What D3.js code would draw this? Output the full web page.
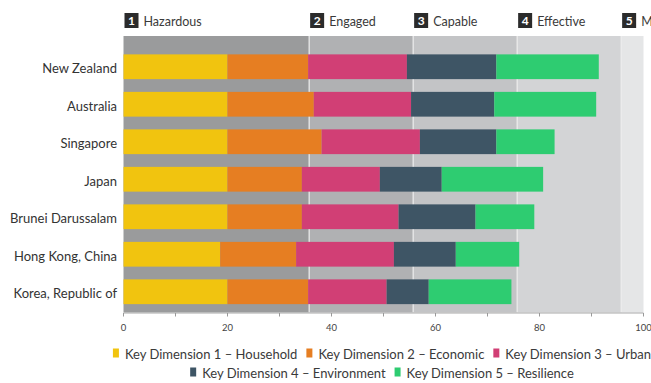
<!DOCTYPE html>
<html>
<head>
<meta charset="utf-8">
<script src="https://cdn.jsdelivr.net/npm/d3@7/dist/d3.min.js"></script>
<style>
  html, body { margin: 0; padding: 0; background: #ffffff; }
  svg { display: block; }
  text { font-family: Lato, "Open Sans", sans-serif; }
</style>
</head>
<body>
<svg id="chart" width="651" height="383"></svg>
<script>
// Countries, top to bottom
const countries = ["New Zealand", "Australia", "Singapore", "Japan",
  "Brunei Darussalam", "Hong Kong, China", "Korea, Republic of"];

// Scores per key dimension (stacked)
const household   = [20.0, 20.0, 20.0, 20.0, 20.0, 18.6, 20.0];
const economic    = [15.5, 16.6, 18.1, 14.3, 14.3, 14.6, 15.5];
const urban       = [19.0, 18.7, 18.9, 15.0, 18.6, 18.8, 15.1];
const environment = [17.2, 16.0, 14.7, 11.9, 14.8, 11.9,  8.1];
const resilience  = [19.7, 19.6, 11.2, 19.5, 11.3, 12.2, 15.9];

const seriesNames = [
  "Key Dimension 1 \u2013 Household",
  "Key Dimension 2 \u2013 Economic",
  "Key Dimension 3 \u2013 Urban",
  "Key Dimension 4 \u2013 Environment",
  "Key Dimension 5 \u2013 Resilience"
];
const seriesColors = ["#f1c40f", "#e67e22", "#d13f75", "#3e5565", "#2ecc71"];

// Maturity stages shown as background bands
const stageNames  = ["Hazardous", "Engaged", "Capable", "Effective", "Mature"];
const stageStarts = [0, 35.7, 55.7, 75.7, 95.7];
const stageEnds   = [35.7, 55.7, 75.7, 95.7, 100];
const stageColors = ["#9a9b9c", "#b0b1b3", "#c3c4c6", "#d3d4d6", "#e5e6e7"];

const xTicks = [0, 10, 20, 30, 40, 50, 60, 70, 80, 90, 100];
const xLabels = [0, 20, 40, 60, 80, 100];

const svg = d3.select("#chart");

const x = d3.scaleLinear().domain([0, 100]).range([123.5, 643.5]);
const y = d3.scaleBand().domain(countries).range([48, 310.5])
  .paddingInner(0.34).paddingOuter(0.17);

const bandTop = 36, bandBottom = 312.5;

// Background stage bands
svg.append("g").selectAll("rect")
  .data(stageNames)
  .join("rect")
  .attr("x", (d, i) => x(stageStarts[i]))
  .attr("width", (d, i) => x(stageEnds[i]) - x(stageStarts[i]))
  .attr("y", bandTop)
  .attr("height", bandBottom - bandTop)
  .attr("fill", (d, i) => stageColors[i]);

// Light separators between stages
svg.append("g").selectAll("line")
  .data(stageStarts.slice(1))
  .join("line")
  .attr("x1", d => x(d)).attr("x2", d => x(d))
  .attr("y1", bandTop).attr("y2", bandBottom)
  .attr("stroke", "#ececec").attr("stroke-width", 1.2);

// Stage headers: numbered box + name
const header = svg.append("g").selectAll("g")
  .data(stageNames)
  .join("g")
  .attr("transform", (d, i) => `translate(${x(stageStarts[i]) + 1},0)`);
header.append("rect")
  .attr("x", 0).attr("y", 13).attr("width", 14).attr("height", 15)
  .attr("fill", "#2b2b2b");
header.append("text")
  .attr("x", 7).attr("y", 25)
  .attr("text-anchor", "middle")
  .attr("fill", "#ffffff").attr("font-size", 12).attr("font-weight", 700)
  .text((d, i) => i + 1);
header.append("text")
  .attr("x", 19).attr("y", 25.5)
  .attr("fill", "#3a3a3a").attr("font-size", 12.5)
  .text(d => d);

// Stacked bars
const rows = countries.map((c, i) => ({
  country: c,
  s0: household[i], s1: economic[i], s2: urban[i], s3: environment[i], s4: resilience[i]
}));
const stack = d3.stack().keys(["s0", "s1", "s2", "s3", "s4"]);
const layers = stack(rows);

svg.append("g").selectAll("g")
  .data(layers)
  .join("g")
  .attr("fill", (d, i) => seriesColors[i])
  .selectAll("rect")
  .data(d => d)
  .join("rect")
  .attr("x", d => x(d[0]))
  .attr("width", d => x(d[1]) - x(d[0]))
  .attr("y", d => y(d.data.country))
  .attr("height", y.bandwidth());

// Country labels
svg.append("g").selectAll("text")
  .data(countries)
  .join("text")
  .attr("x", 117)
  .attr("y", d => y(d) + y.bandwidth() / 2 + 6.5)
  .attr("text-anchor", "end")
  .attr("fill", "#333333").attr("font-size", 13)
  .text(d => d);

// X axis
const axis = svg.append("g").attr("transform", `translate(0,${bandBottom + 0.5})`);
axis.append("line")
  .attr("x1", x(0)).attr("x2", x(100))
  .attr("stroke", "#a8a8a8").attr("stroke-width", 1);
axis.selectAll("line.tick")
  .data(xTicks)
  .join("line")
  .attr("class", "tick")
  .attr("x1", d => x(d)).attr("x2", d => x(d))
  .attr("y1", 0).attr("y2", 3.5)
  .attr("stroke", "#999999");
axis.selectAll("text")
  .data(xLabels)
  .join("text")
  .attr("x", d => x(d))
  .attr("y", 18)
  .attr("text-anchor", "middle")
  .attr("fill", "#444444").attr("font-size", 9.5)
  .text(d => d);

// Legend, two centred rows
const legendRows = [[0, 1, 2], [3, 4]];
const legendY = [354, 373];
const legendCx = 382;
const swW = 6, swH = 9, swGap = 6, itemGap = 9;
const legend = svg.append("g");
legendRows.forEach((row, r) => {
  const g = legend.append("g");
  let cursor = 0;
  row.forEach(idx => {
    const item = g.append("g").attr("transform", `translate(${cursor},0)`);
    item.append("rect")
      .attr("x", 0).attr("y", -swH / 2 - 1).attr("width", swW).attr("height", swH)
      .attr("fill", seriesColors[idx]);
    const t = item.append("text")
      .attr("x", swW + swGap).attr("y", 4.5)
      .attr("fill", "#3a3a3a").attr("font-size", 13)
      .text(seriesNames[idx]);
    cursor += swW + swGap + t.node().getComputedTextLength() + itemGap;
  });
  const total = cursor - itemGap;
  g.attr("transform", `translate(${legendCx - total / 2},${legendY[r]})`);
});
</script>
</body>
</html>
